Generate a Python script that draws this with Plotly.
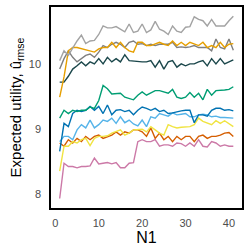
import plotly.graph_objects as go

N1 = list(range(1, 42))

light_grey = [10.05, 10.2, 10.13, 10.25, 10.35, 10.44, 10.31, 10.35, 10.36, 10.45,
              10.58, 10.55, 10.55, 10.57, 10.53, 10.49, 10.61, 10.48, 10.5, 10.61,
              10.48, 10.52, 10.65, 10.53, 10.5, 10.45, 10.58, 10.5, 10.48, 10.56,
              10.57, 10.72, 10.68, 10.66, 10.58, 10.68, 10.58, 10.58, 10.58, 10.66, 10.73]
orange = [9.49, 9.8, 10.2, 10.25, 10.25, 10.23, 10.21, 10.2, 10.18, 10.23,
          10.25, 10.25, 10.33, 10.25, 10.33, 10.25, 10.2, 10.18, 10.33, 10.33,
          10.28, 10.28, 10.3, 10.33, 10.3, 10.28, 10.35, 10.28, 10.33, 10.28,
          10.33, 10.31, 10.28, 10.33, 10.25, 10.28, 10.25, 10.33, 10.25, 10.3, 10.31]
dark_grey = [9.92, 10.08, 10.2, 10.1, 10.03, 10.08, 10.13, 10.15, 10.1, 10.18,
             10.28, 10.25, 10.3, 10.33, 10.3, 10.25, 10.33, 10.35, 10.3, 10.31,
             10.28, 10.3, 10.28, 10.3, 10.3, 10.3, 10.33, 10.25, 10.26, 10.25,
             10.26, 10.28, 10.25, 10.25, 10.25, 10.2, 10.38, 10.25, 10.23, 10.38, 10.21]
dark_teal = [9.72, 9.72, 9.81, 9.92, 9.97, 10.03, 9.97, 10.03, 10.0, 10.08,
             10.0, 10.1, 10.03, 10.08, 10.03, 10.14, 10.05, 10.04, 10.03, 10.03,
             10.03, 10.05, 9.95, 10.05, 9.92, 10.03, 10.05, 9.95, 10.0, 9.97,
             10.0, 10.0, 10.03, 10.05, 9.97, 10.08, 10.0, 10.08, 10.0, 10.03, 10.06]
green = [9.17, 9.29, 9.24, 9.29, 9.27, 9.29, 9.29, 9.34, 9.32, 9.44,
         9.67, 9.62, 9.54, 9.55, 9.55, 9.49, 9.47, 9.45, 9.52, 9.57,
         9.52, 9.55, 9.59, 9.59, 9.57, 9.55, 9.61, 9.49, 9.47, 9.49,
         9.56, 9.49, 9.55, 9.45, 9.61, 9.52, 9.59, 9.59, 9.6, 9.61, 9.65]
blue = [8.66, 9.09, 9.04, 9.24, 9.29, 9.27, 9.29, 9.35, 9.29, 9.35,
        9.24, 9.37, 9.22, 9.29, 9.3, 9.27, 9.29, 9.22, 9.29, 9.34,
        9.32, 9.29, 9.32, 9.27, 9.29, 9.24, 9.25, 9.27, 9.28, 9.29,
        9.29, 9.1, 9.22, 9.22, 9.2, 9.29, 9.32, 9.32, 9.29, 9.3, 9.28]
sky_blue = [8.81, 8.89, 8.89, 8.84, 8.99, 9.07, 9.02, 9.14, 9.02, 9.07,
            9.14, 9.12, 9.17, 9.09, 9.19, 9.1, 9.14, 9.08, 9.05, 9.14,
            9.04, 9.19, 9.17, 9.24, 9.22, 9.2, 9.25, 9.22, 9.23, 9.24,
            9.19, 9.19, 9.22, 9.23, 9.22, 9.19, 9.2, 9.18, 9.18, 9.17, 9.17]
yellow = [8.36, 8.74, 8.74, 8.81, 8.79, 8.84, 8.86, 8.75, 8.86, 8.89,
          8.89, 8.9, 8.94, 8.96, 8.99, 8.91, 8.94, 8.99, 8.99, 9.0,
          8.96, 9.04, 8.99, 8.94, 8.91, 9.07, 9.04, 9.02, 9.03, 9.04,
          9.04, 9.07, 9.17, 9.12, 9.09, 9.07, 9.13, 9.09, 9.13, 9.09, 9.04]
vermillion = [8.79, 8.74, 8.84, 8.79, 8.86, 8.81, 8.89, 8.84, 8.89, 8.91,
              8.86, 8.89, 8.91, 8.96, 8.91, 8.96, 8.94, 8.99, 8.99, 8.96,
              8.89, 9.02, 8.86, 8.94, 8.84, 8.89, 8.81, 8.89, 8.84, 8.89,
              8.89, 8.81, 8.89, 8.91, 8.86, 8.89, 8.89, 8.91, 8.94, 8.95, 8.89]
pink = [7.94, 8.48, 8.43, 8.43, 8.41, 8.43, 8.43, 8.44, 8.56, 8.47,
        8.48, 8.49, 8.47, 8.49, 8.41, 8.41, 8.48, 8.49, 8.81, 8.84,
        8.81, 8.81, 8.84, 8.74, 8.76, 8.76, 8.74, 8.79, 8.78, 8.74,
        8.79, 8.74, 8.84, 8.74, 8.73, 8.81, 8.79, 8.74, 8.76, 8.74, 8.74]

series = [
    ("pink", pink, "#CC79A7"),
    ("vermillion", vermillion, "#D55E00"),
    ("yellow", yellow, "#F0E442"),
    ("sky_blue", sky_blue, "#56B4E9"),
    ("blue", blue, "#0072B2"),
    ("green", green, "#009E73"),
    ("dark_teal", dark_teal, "#1B474B"),
    ("dark_grey", dark_grey, "#7F7F7F"),
    ("orange", orange, "#E69F00"),
    ("light_grey", light_grey, "#A3A3A3"),
]

fig = go.Figure()
for name, ys, col in series:
    fig.add_trace(go.Scatter(x=N1, y=ys, mode="lines", name=name,
                             line=dict(color=col, width=1.4), showlegend=False))

font = "Liberation Sans, Arial, sans-serif"
fig.update_layout(
    width=249, height=249,
    margin=dict(l=51, r=6, t=5, b=41),
    plot_bgcolor="white", paper_bgcolor="white",
    font=dict(family=font),
    xaxis=dict(range=[-1, 43], tickvals=[0, 10, 20, 30, 40], showgrid=False, zeroline=False,
               showline=True, linecolor="black", linewidth=1.5, mirror=True, ticks="",
               tickfont=dict(size=11, color="#4D4D4D"), ticklabelstandoff=4,
               title=dict(text="N1", font=dict(size=16, color="black"), standoff=2)),
    yaxis=dict(range=[7.795, 10.87], tickvals=[8, 9, 10], showgrid=False, zeroline=False,
               showline=True, linecolor="black", linewidth=1.5, mirror=True, ticks="",
               tickfont=dict(size=11, color="#4D4D4D"), ticklabelstandoff=6,
               title=dict(text="Expected utility, û<sub>rmse</sub>", font=dict(size=15, color="black"), standoff=4)),
)
fig.write_html("out.html", config={"displayModeBar": False},
               post_script="document.body.style.margin='0';document.body.style.padding='0';")
